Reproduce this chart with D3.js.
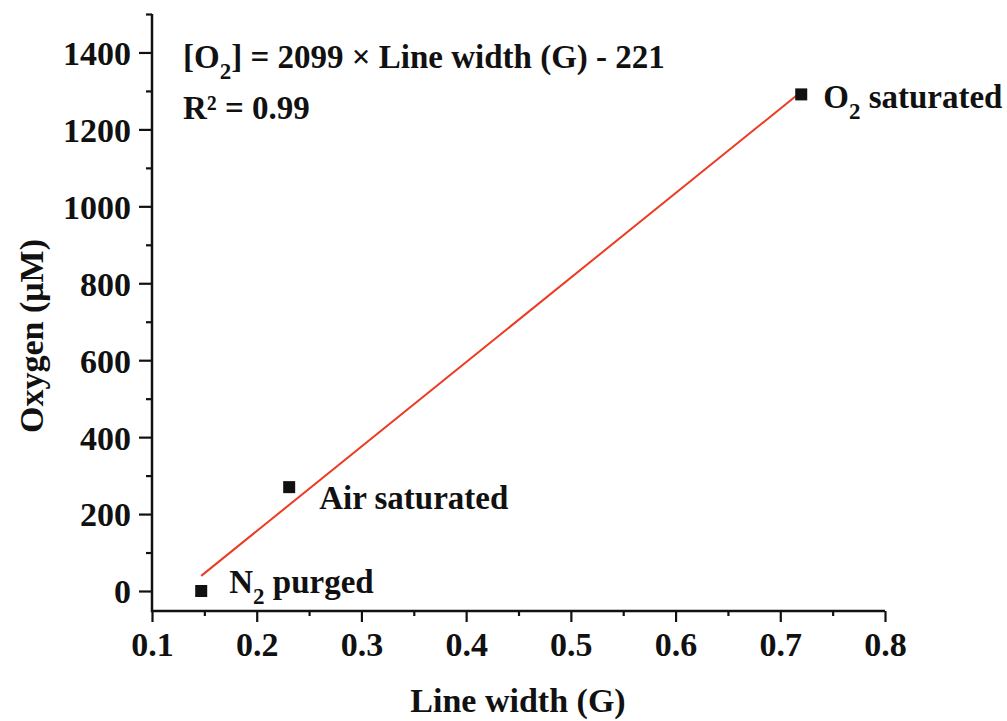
<!DOCTYPE html>
<html>
<head>
<meta charset="utf-8">
<script src="https://d3js.org/d3.v7.min.js"></script>
<style>
  body { margin: 0; background: #fff; }
  text { font-family: "Liberation Serif", "Times New Roman", serif; font-weight: bold; fill: #111; }
</style>
</head>
<body>
<div id="chart"></div>
<script>
// points
const labels = ["N2 purged", "Air saturated", "O2 saturated"];
const lineWidth = [0.147, 0.231, 0.720];
const oxygen = [0, 270, 1291];
const xTicks = [0.1, 0.2, 0.3, 0.4, 0.5, 0.6, 0.7, 0.8];
const yTicks = [0, 200, 400, 600, 800, 1000, 1200, 1400];

const width = 1007, height = 721;
const svg = d3.select("#chart").append("svg")
    .attr("width", width).attr("height", height);

const x = d3.scaleLinear().domain([0.1, 0.8]).range([152, 885]);
const y = d3.scaleLinear().domain([-52, 1500]).range([611, 14]);

// least squares fit through the points
const n = lineWidth.length;
const mx = d3.mean(lineWidth), my = d3.mean(oxygen);
let sxy = 0, sxx = 0;
for (let i = 0; i < n; i++) {
    sxy += (lineWidth[i] - mx) * (oxygen[i] - my);
    sxx += (lineWidth[i] - mx) ** 2;
}
const slope = sxy / sxx, icpt = my - slope * mx;
const fitX = d3.extent(lineWidth);

svg.append("line")
    .attr("x1", x(fitX[0])).attr("y1", y(slope * fitX[0] + icpt))
    .attr("x2", x(fitX[1])).attr("y2", y(slope * fitX[1] + icpt))
    .style("stroke", "#ec3b22").style("stroke-width", 2);

// axes
const isMajorX = d => xTicks.some(t => Math.abs(t - d) < 1e-6);
const xAxis = svg.append("g").attr("transform", "translate(0,611)");
xAxis.call(d3.axisBottom(x).tickValues(d3.range(0.1, 0.8001, 0.05)).tickSize(5).tickFormat(""));
xAxis.selectAll(".tick").filter(isMajorX).select("line").attr("y2", 11);
xAxis.selectAll(".tick").filter(isMajorX)
    .append("text").attr("y", 45).attr("text-anchor", "middle")
    .style("font-size", "34px").text(d => d3.format(".1f")(d));

const yAxis = svg.append("g").attr("transform", "translate(152,0)");
yAxis.call(d3.axisLeft(y).tickValues(d3.range(0, 1501, 100)).tickSize(6).tickFormat(""));
yAxis.selectAll(".tick").filter(d => yTicks.includes(d))
    .select("line").attr("x2", -13);
yAxis.selectAll(".tick").filter(d => yTicks.includes(d))
    .append("text").attr("x", -21).attr("dy", "0.35em").attr("text-anchor", "end")
    .style("font-size", "34px").text(d => d);

svg.selectAll(".domain").attr("d", null);
svg.append("path").attr("d", `M152,14V611H885`)
    .style("fill", "none").style("stroke", "#111").style("stroke-width", 2.5);
svg.selectAll(".tick line").style("stroke", "#111").style("stroke-width", 2.2);

// points
svg.selectAll("rect.pt").data(lineWidth).enter().append("rect")
    .attr("class", "pt")
    .attr("x", d => x(d) - 6).attr("y", (d, i) => y(oxygen[i]) - 6)
    .attr("width", 12).attr("height", 12).style("fill", "#111");

// point labels
const lab = [
    { i: 0, dx: 28, dy: 2, main: "N", sub: "2", rest: " purged" },
    { i: 1, dx: 30, dy: 22, main: "Air saturated", sub: null, rest: "" },
    { i: 2, dx: 22, dy: 14, main: "O", sub: "2", rest: " saturated" }
];
lab.forEach(l => {
    const t = svg.append("text")
        .attr("x", x(lineWidth[l.i]) + l.dx).attr("y", y(oxygen[l.i]) + l.dy)
        .style("font-size", "33px");
    t.append("tspan").text(l.main);
    if (l.sub) {
        t.append("tspan").attr("dy", 11).style("font-size", "23px").text(l.sub);
        t.append("tspan").attr("dy", -11).text(l.rest);
    }
});

// equation
const eq = svg.append("text").attr("x", 183).attr("y", 68).style("font-size", "33px");
eq.append("tspan").text("[O");
eq.append("tspan").attr("dy", 11).style("font-size", "23px").text("2");
eq.append("tspan").attr("dy", -11).text("] = 2099 \u00d7 Line width (G) - 221");
svg.append("text").attr("x", 183).attr("y", 119).style("font-size", "33px").text("R\u00b2 = 0.99");

// axis titles
svg.append("text").attr("x", 518).attr("y", 712).attr("text-anchor", "middle")
    .style("font-size", "34px").text("Line width (G)");
svg.append("text").attr("transform", "translate(43,336) rotate(-90)")
    .attr("text-anchor", "middle").style("font-size", "34px").text("Oxygen (\u03bcM)");
</script>
</body>
</html>
